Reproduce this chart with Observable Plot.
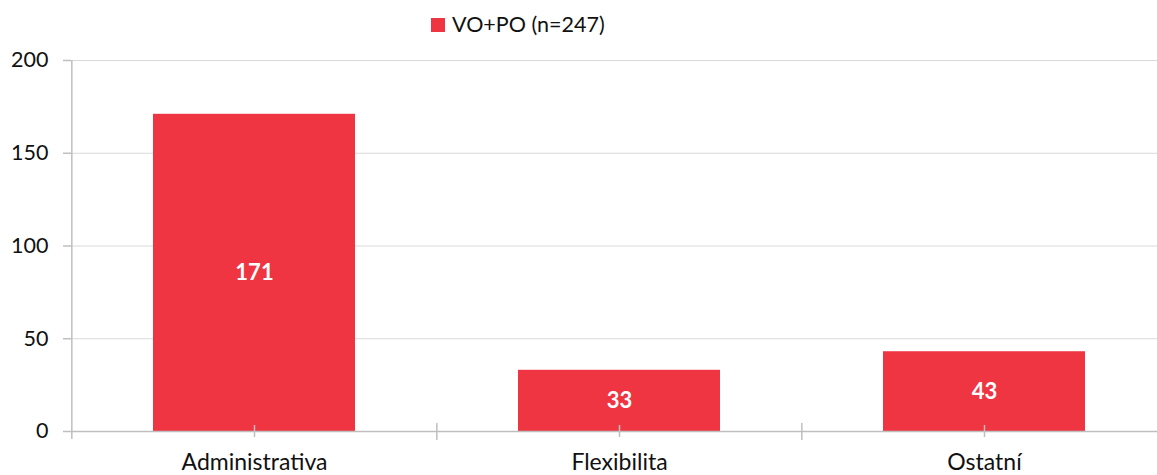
<!DOCTYPE html>
<html><head><meta charset="utf-8">
<script src="https://cdn.jsdelivr.net/npm/d3@7"></script>
<script src="https://cdn.jsdelivr.net/npm/@observablehq/plot@0.6"></script>
<style>
body{margin:0;overflow:hidden;background:#fff;font-family:Lato,"Open Sans",sans-serif;}
#wrap{position:relative;width:1157px;height:475px;overflow:hidden;}
#legend{position:relative;height:40px;}
#legend .sw{position:absolute;left:431px;top:18px;width:14px;height:14px;}
#legend .lb{position:absolute;left:452px;top:12px;font-size:21.5px;line-height:24px;color:#111;white-space:nowrap;}
</style></head>
<body><div id="wrap"><div id="legend"><span class="sw"></span><span class="lb"></span></div><div id="chart"></div></div>
<script>
const categories = ["Administrativa", "Flexibilita", "Ostatní"];
const values = [171, 33, 43];
const seriesName = "VO+PO (n=247)";
const yTicks = [0, 50, 100, 150, 200];
const barColor = "#ef3542";

const data = categories.map((c, i) => ({category: c, value: values[i]}));

document.querySelector("#legend .sw").style.background = barColor;
document.querySelector("#legend .lb").textContent = seriesName;

const W = 1167, H = 435, mL = 71, mR = 0, mT = 20, mB = 44;
const step = (W - mL - mR) / categories.length;
const axisColor = "#bfbfbf", gridColor = "#d9d9d9";

const plot = Plot.plot({
  width: W, height: H,
  marginLeft: mL, marginRight: mR, marginTop: mT, marginBottom: mB,
  style: {fontFamily: "Lato, 'Open Sans', sans-serif", fontSize: "21px", color: "#111", background: "#fff", maxWidth: "none", overflow: "hidden"},
  x: {domain: categories, paddingInner: 0.447, paddingOuter: 0.2235, label: null},
  y: {domain: [0, 200], label: null},
  marks: [
    Plot.ruleY(yTicks.slice(1), {stroke: gridColor, strokeWidth: 1.2}),
    Plot.barY(data, {x: "category", y: "value", fill: barColor}),
    Plot.ruleY([0], {stroke: axisColor, strokeWidth: 1.5}),
    // left axis line
    Plot.ruleX(categories.slice(0, 1), {x: d => d, y1: 200, y2: 0, dx: -step / 2, insetBottom: -8, stroke: axisColor, strokeWidth: 1.5}),
    // category boundary ticks
    Plot.ruleX(categories.slice(1), {x: d => d, y1: 0, y2: 0, dx: -step / 2, insetTop: -8, insetBottom: -9, stroke: axisColor, strokeWidth: 1.5}),
    // center ticks
    Plot.ruleX(categories, {x: d => d, y1: 0, y2: 0, insetTop: -6, insetBottom: -6, stroke: axisColor, strokeWidth: 1.5}),
    Plot.axisY({ticks: yTicks, tickSize: 8, tickPadding: 15, stroke: axisColor, strokeWidth: 1.5, fill: "#111", fontSize: 21.5, label: null}),
    Plot.axisX({tickSize: 0, tickPadding: 22, fill: "#111", fontSize: 23, label: null}),
    Plot.text(data, {x: "category", y: d => d.value / 2, text: d => String(d.value), fill: "#fff", fontWeight: "bold", fontSize: 22})
  ]
});
document.getElementById("chart").appendChild(plot);
</script></body></html>
